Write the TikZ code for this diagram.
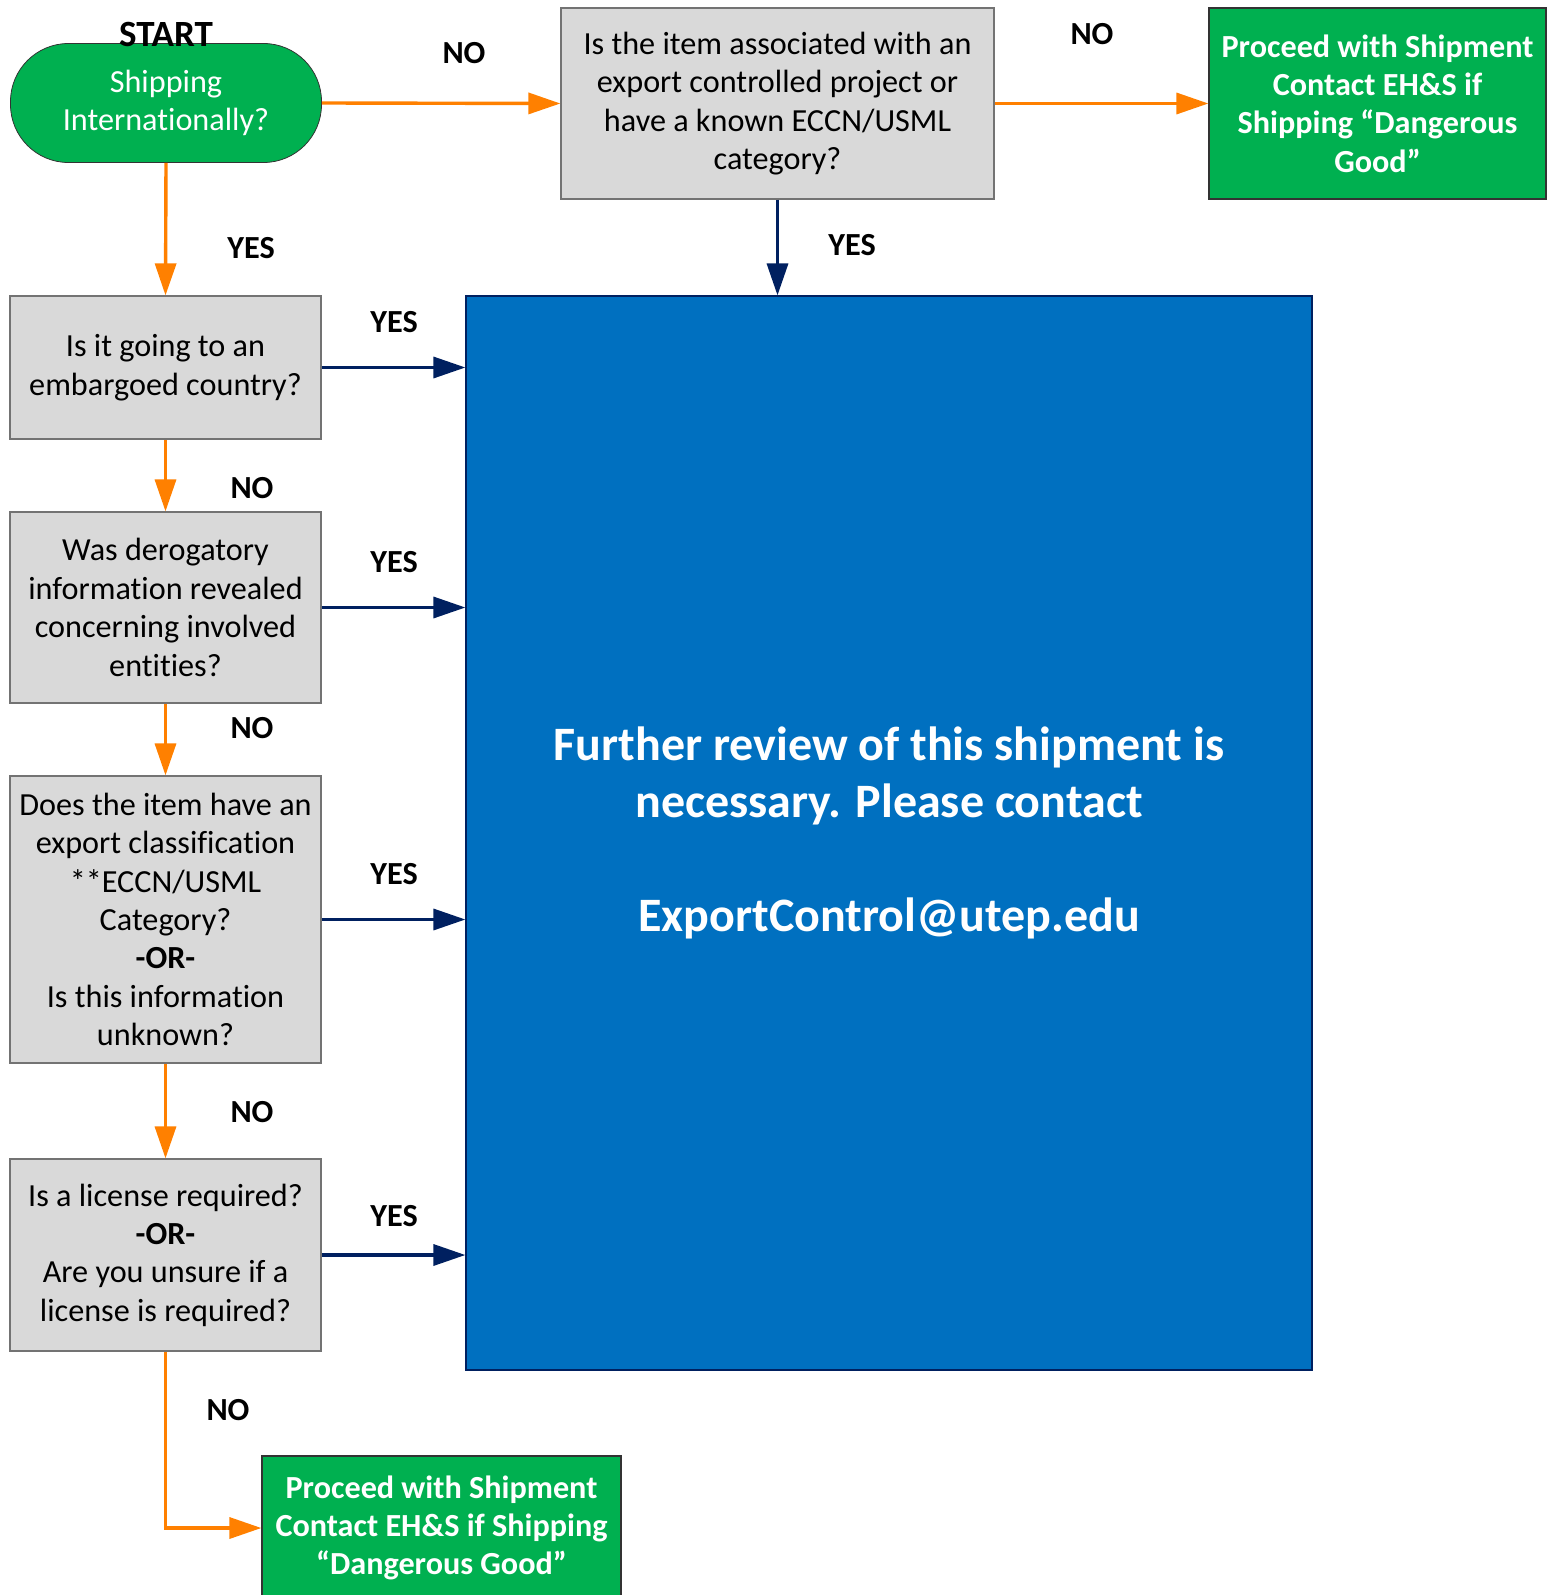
\documentclass[tikz,border=0pt]{standalone}
\usepackage{fontspec}
\setmainfont{Carlito}[Ligatures=NoCommon]
\usetikzlibrary{arrows.meta}

\definecolor{flowgreen}{HTML}{00B050}
\definecolor{flowblue}{HTML}{0070C0}
\definecolor{flowgray}{HTML}{D9D9D9}
\definecolor{floworange}{HTML}{FF8000}
\definecolor{flownavy}{HTML}{002060}

\begin{document}
\begin{tikzpicture}[
    x=0.5pt, y=-0.5pt,
    font=\fontsize{16.1}{19.2}\selectfont,
    % question boxes in light gray
    question/.style={
        rectangle,
        draw=black!55,
        fill=flowgray,
        align=center,
        inner sep=0pt,
        line width=0.6pt,
        },
    % end boxes: proceed with shipment
    proceed/.style={
        rectangle,
        draw=black!80,
        fill=flowgreen,
        text=white,
        font=\fontsize{16.1}{19.2}\selectfont\bfseries,
        align=center,
        inner sep=0pt,
        line width=0.6pt,
        },
    answer/.style={font=\fontsize{16.1}{19.2}\selectfont\bfseries},
    noarrow/.style={draw=floworange, line width=1.7pt,
        -{Triangle[length=16pt,width=10.5pt]}},
    yesarrow/.style={draw=flownavy, line width=1.7pt,
        -{Triangle[length=16pt,width=10.5pt]}},
    ]
    \useasboundingbox (0,0) rectangle (1553,1595);
    \clip (0,0) rectangle (1553,1595);

    % start
    \node [rectangle, rounded corners=29pt, draw=black!80, fill=flowgreen,
        text=white, align=center, minimum width=155.5pt, minimum height=59.5pt,
        inner sep=0pt] (start) at (166,103) {Shipping\\Internationally?};
    \node [font=\fontsize{18.5}{20}\selectfont\bfseries] (startlbl) at (166,34) {START};

    \node [question, minimum width=216.5pt, minimum height=95.5pt] (controlled) at (777.5,103.5)
        {Is the item associated with an\\export controlled project or\\have a known ECCN/USML\\category?};
    \node [proceed, minimum width=168.5pt, minimum height=95.5pt] (proceedtop) at (1377.5,103.5)
        {Proceed with Shipment\\Contact EH\&S if\\Shipping “Dangerous\\Good”};

    \node [rectangle, fill=flowblue, draw=flownavy, line width=0.6pt, text=white,
        minimum width=423pt, minimum height=537pt, align=center,
        font=\fontsize{24}{28.5}\selectfont\bfseries] (review) at (889,833)
        {Further review of this shipment is\\necessary. Please contact\\[28.5pt]ExportControl@utep.edu};

    \node [question, minimum width=155.5pt, minimum height=71.5pt] (embargo) at (165.5,367.5)
        {Is it going to an\\embargoed country?};
    \node [question, minimum width=155.5pt, minimum height=95.5pt] (derog) at (165.5,607.5)
        {Was derogatory\\information revealed\\concerning involved\\entities?};
    \node [question, minimum width=155.5pt, minimum height=143.5pt] (classif) at (165.5,919.5)
        {Does the item have an\\export classification\\**ECCN/USML\\Category?\\\textbf{-OR-}\\Is this information\\unknown?};
    \node [question, minimum width=155.5pt, minimum height=96pt] (license) at (165.5,1255)
        {Is a license required?\\\textbf{-OR-}\\Are you unsure if a\\license is required?};
    \node [proceed, minimum width=179.5pt, minimum height=72pt] (proceedbot) at (441.5,1528)
        {Proceed with Shipment\\Contact EH\&S if Shipping\\“Dangerous Good”};

    % connectors
    \draw [noarrow] (start.east) -- (controlled.west);
    \draw [noarrow] (controlled.east) -- (proceedtop.west);
    \draw [noarrow] (start.south) -- (embargo.north);
    \draw [noarrow] (embargo.south) -- (derog.north);
    \draw [noarrow] (derog.south) -- (classif.north);
    \draw [noarrow] (classif.south) -- (license.north);
    \draw [noarrow] (license.south) |- (proceedbot.west);
    \draw [yesarrow] (controlled.south) -- (controlled.south |- review.north);
    \draw [yesarrow] (embargo.east) -- (embargo.east -| review.west);
    \draw [yesarrow] (derog.east) -- (derog.east -| review.west);
    \draw [yesarrow] (classif.east) -- (classif.east -| review.west);
    \draw [yesarrow] (license.east) -- (license.east -| review.west);

    % answers
    \node [answer] (noA) at (464,53) {NO};
    \node [answer] (noB) at (1092,34) {NO};
    \node [answer] (yesA) at (251,248) {YES};
    \node [answer] (yesB) at (852,245) {YES};
    \node [answer] (yesC) at (394,322) {YES};
    \node [answer] (noC) at (252,488) {NO};
    \node [answer] (yesD) at (394,562) {YES};
    \node [answer] (noD) at (252,728) {NO};
    \node [answer] (yesE) at (394,874) {YES};
    \node [answer] (noE) at (252,1112) {NO};
    \node [answer] (yesF) at (394,1216) {YES};
    \node [answer] (noF) at (228,1410) {NO};
\end{tikzpicture}
\end{document}
